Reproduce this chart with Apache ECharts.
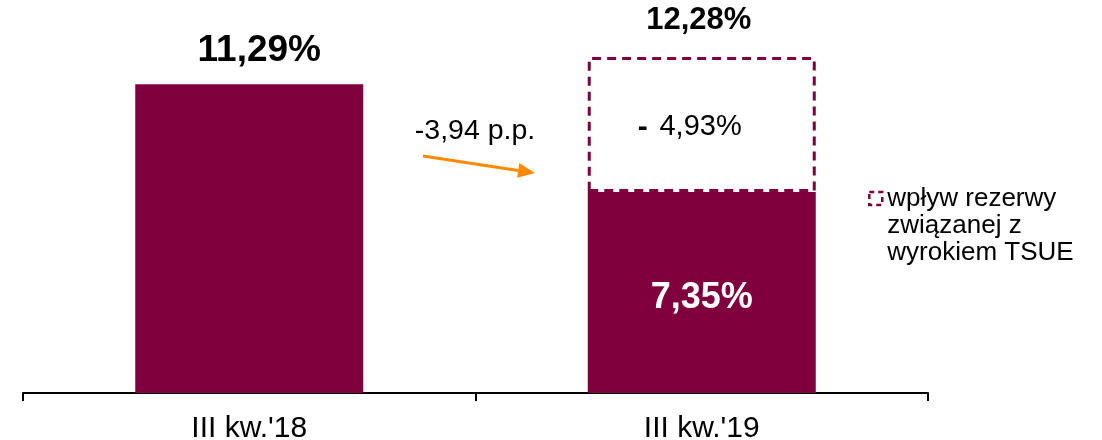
<!DOCTYPE html>
<html>
<head>
<meta charset="utf-8">
<script src="https://cdn.jsdelivr.net/npm/echarts@6/dist/echarts.min.js"></script>
<style>
  html, body { margin: 0; padding: 0; background: #fff; }
  #chart { width: 1102px; height: 440px; }
</style>
</head>
<body>
<div id="chart"></div>
<script>
// Quarters on the x axis
const categories = ["III kw.'18", "III kw.'19"];
// Reported ratio (solid bars)
const baseValues = [11.29, 7.35];
// Effect of the TSUE ruling provision, stacked on top (dashed outline)
const reserveImpact = [null, 4.93];
const reserveName = 'wpływ rezerwy związanej z wyrokiem TSUE';
const reserveLegendLines = ['wpływ rezerwy', 'związanej z', 'wyrokiem TSUE'];

const MAROON = '#7F003C';
const ORANGE = '#FF8A00';
const FONT = '"Liberation Sans", Arial, sans-serif';

const fmt = v => v.toFixed(2).replace('.', ',') + '%';
const total = +(baseValues[1] + reserveImpact[1]).toFixed(2);
const change = +(baseValues[1] - baseValues[0]).toFixed(2);

// Arrow annotation: shaft plus a triangular head
function arrow(x1, y1, x2, y2, headLen, headW) {
  const dx = x2 - x1, dy = y2 - y1, len = Math.hypot(dx, dy);
  const ux = dx / len, uy = dy / len;
  const bx = x2 - ux * headLen, by = y2 - uy * headLen;
  const px = -uy * headW / 2, py = ux * headW / 2;
  return [
    { type: 'line', shape: { x1, y1, x2: bx, y2: by },
      style: { stroke: ORANGE, lineWidth: 3 } },
    { type: 'polygon', shape: { points: [[x2, y2], [bx + px, by + py], [bx - px, by - py]] },
      style: { fill: ORANGE } }
  ];
}

const chart = echarts.init(document.getElementById('chart'));
chart.setOption({
  animation: false,
  textStyle: { fontFamily: FONT },
  grid: { left: 23, right: 174, top: 10, bottom: 47, outerBoundsMode: 'none', containLabel: false },
  xAxis: {
    type: 'category',
    data: categories,
    axisLine: { lineStyle: { color: '#000', width: 2 } },
    axisTick: { show: true, length: 8, lineStyle: { color: '#000', width: 2 } },
    axisLabel: { color: '#000', fontSize: 30, margin: 21, fontFamily: FONT }
  },
  yAxis: { type: 'value', min: 0, max: 14, show: false, splitLine: { show: false } },
  legend: {
    data: [reserveName],
    selectedMode: false,
    orient: 'vertical',
    left: 868,
    top: 131,
    padding: 0,
    icon: 'rect',
    itemWidth: 13,
    itemHeight: 13,
    itemStyle: { color: 'rgba(0,0,0,0)', borderColor: MAROON, borderWidth: 2.5, borderType: [5, 4] },
    // two blank lines above keep the icon level with the first line of text
    formatter: () => '\n\n' + reserveLegendLines.join('\n'),
    textStyle: { color: '#000', fontSize: 26, lineHeight: 27, fontFamily: FONT }
  },
  series: [
    {
      name: 'base',
      type: 'bar',
      stack: 'ratio',
      z: 3,
      barWidth: 228,
      itemStyle: { color: MAROON },
      data: baseValues.map((v, i) => ({
        value: v,
        label: i === 0
          ? { show: true, position: 'top', distance: 15, offset: [10, 0],
              color: '#000', fontWeight: 'bold', fontSize: 37, fontFamily: FONT, formatter: p => fmt(p.value) }
          : { show: true, position: 'inside', offset: [0, 6],
              color: '#fff', fontWeight: 'bold', fontSize: 36, fontFamily: FONT, formatter: p => fmt(p.value) }
      }))
    },
    {
      name: reserveName,
      type: 'bar',
      stack: 'ratio',
      z: 2,
      barWidth: 228,
      itemStyle: { color: 'rgba(0,0,0,0)', borderColor: MAROON, borderWidth: 3, borderType: [9, 6] },
      label: {
        show: true,
        position: 'inside',
        offset: [-12, 3],
        formatter: p => '{d|-}{s| }' + fmt(p.value),
        color: '#000',
        fontSize: 29,
        fontFamily: FONT,
        rich: {
          d: { fontWeight: 'bold', fontSize: 30, color: '#000', fontFamily: FONT },
          s: { fontSize: 42, fontFamily: FONT }
        }
      },
      data: reserveImpact.map(v => (v == null ? '-' : v)),
      markPoint: {
        symbol: 'circle',
        symbolSize: 0,
        data: [{ coord: [categories[1], total], value: total }],
        label: {
          show: true, position: 'top', distance: 21, offset: [-3, 0],
          color: '#000', fontWeight: 'bold', fontSize: 31, fontFamily: FONT,
          formatter: p => fmt(p.value)
        }
      }
    }
  ],
  graphic: [
    { type: 'text', x: 475, y: 131,
      style: { text: change.toFixed(2).replace('.', ',') + ' p.p.', fill: '#000', fontSize: 28.5,
               fontFamily: FONT, align: 'center', verticalAlign: 'middle' } },
    ...arrow(423, 156, 535, 173, 17, 15)
  ]
});
</script>
</body>
</html>
